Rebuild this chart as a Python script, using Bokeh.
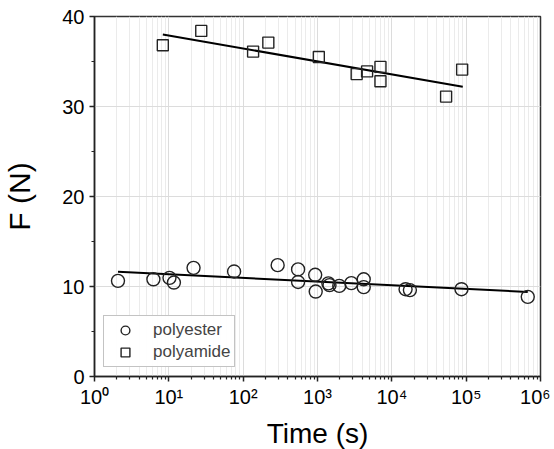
import numpy as np
from bokeh.plotting import figure
from bokeh.models import FixedTicker, Legend, LegendItem
from bokeh.embed import file_html
from bokeh.resources import INLINE

# Polyester (circles)
polyester_t = [2.07, 6.2, 10.2, 11.7, 21.5, 75.5, 291, 548, 548, 931, 946, 1400, 1450,
               1963, 2850, 4186, 4186, 15300, 17500, 86500, 674000]
polyester_F = [10.63, 10.8, 10.96, 10.44, 12.07, 11.67, 12.37, 11.9, 10.5, 11.3, 9.44, 10.35, 10.15,
               10.07, 10.37, 10.8, 9.93, 9.7, 9.6, 9.7, 8.85]
# Polyamide (squares)
polyamide_t = [8.3, 27.3, 136, 218, 1042, 3365, 4645, 7030, 7030, 53700, 88300]
polyamide_F = [36.8, 38.4, 36.1, 37.1, 35.5, 33.6, 33.9, 34.4, 32.8, 31.1, 34.1]
# Fitted lines (endpoints)
fit_polyester_t = [2.07, 674000]
fit_polyester_F = [11.63, 9.4]
fit_polyamide_t = [8.3, 90000]
fit_polyamide_F = [38.0, 32.2]

x_major = [1, 10, 100, 1000, 10000, 100000, 1000000]
x_labels = ["10⁰", "10¹", "10²", "10³", "10⁴", "10⁵", "10⁶"]
y_major = [0, 10, 20, 30, 40]
y_minor = [5, 15, 25, 35]

FONT = "Liberation Sans"

p = figure(frame_width=446, frame_height=360, x_axis_type="log", x_range=(1, 1e6), y_range=(0, 40),
           output_backend="svg", toolbar_location=None,
           min_border_left=93, min_border_right=10, min_border_top=16, min_border_bottom=65)

x_minor = [m * d for d in x_major[:-1] for m in range(2, 10)]
p.xaxis.ticker = FixedTicker(ticks=x_major, minor_ticks=x_minor)
p.yaxis.ticker = FixedTicker(ticks=y_major, minor_ticks=y_minor)
p.xaxis.major_label_overrides = {v: l for v, l in zip(x_major, x_labels)}

for ax in (p.xaxis, p.yaxis):
    ax.axis_line_color = "#222222"
    ax.axis_line_width = 1.5
    ax.major_tick_line_color = "#222222"
    ax.major_tick_line_width = 1.5
    ax.minor_tick_line_color = "#222222"
    ax.minor_tick_line_width = 1.2
    ax.major_tick_in = 0
    ax.major_tick_out = 5
    ax.minor_tick_in = 0
    ax.minor_tick_out = 3
    ax.major_label_text_font = FONT
    ax.major_label_text_font_size = "20px"
    ax.major_label_text_color = "black"
    ax.axis_label_text_font = FONT
    ax.axis_label_text_font_style = "normal"
    ax.axis_label_text_color = "black"
    ax.axis_label_text_font_size = "30px"
p.xaxis.axis_label_text_font_size = "28px"
p.xaxis.major_label_standoff = 4
p.yaxis.major_label_standoff = 5
p.xaxis.axis_label_standoff = 7
p.yaxis.axis_label_standoff = 23
p.xaxis.axis_label = "Time (s)"
p.yaxis.axis_label = "F (N)"

p.xgrid.grid_line_color = "#dcdcdc"
p.xgrid.minor_grid_line_color = "#ebebeb"
p.ygrid.grid_line_color = "#dcdcdc"
p.ygrid.minor_grid_line_color = None
p.outline_line_color = "#333333"
p.outline_line_width = 1.5

p.line(fit_polyester_t, fit_polyester_F, line_color="black", line_width=2)
p.line(fit_polyamide_t, fit_polyamide_F, line_color="black", line_width=2)

r1 = p.scatter(polyester_t, polyester_F, marker="circle", size=13, fill_color=None,
               line_color="#222222", line_width=1.4)
r2 = p.scatter(polyamide_t, polyamide_F, marker="square", size=11, fill_color=None,
               line_color="#222222", line_width=1.4)

legend = Legend(items=[LegendItem(label="polyester", renderers=[r1]),
                       LegendItem(label="polyamide", renderers=[r2])],
                location=(9, 9))
legend.label_text_font = FONT
legend.label_text_font_size = "17px"
legend.border_line_color = "#888888"
legend.border_line_width = 1
legend.padding = 3
legend.spacing = 0
legend.label_height = 22
legend.glyph_height = 22
legend.glyph_width = 36
legend.label_standoff = 10
legend.margin = 0
p.add_layout(legend, "center")

open("out.html", "w").write(file_html(p, INLINE))
